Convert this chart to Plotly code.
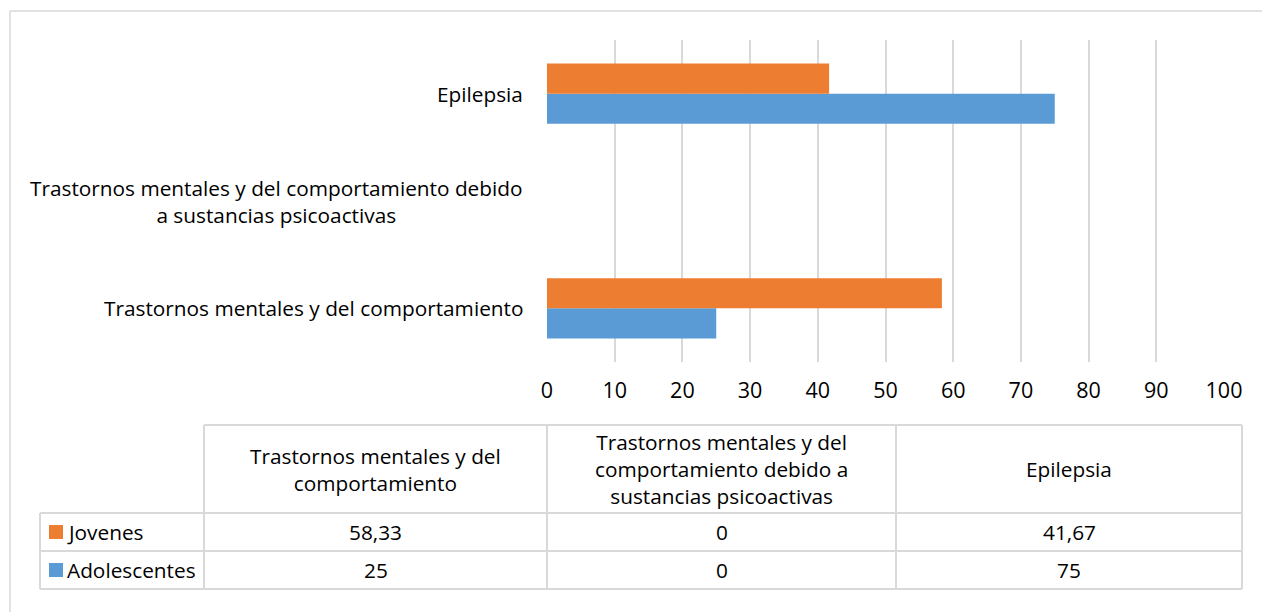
import plotly.graph_objects as go

# Categories (bottom to top on the chart)
categorias = [
    "Trastornos mentales y del comportamiento",
    "Trastornos mentales y del comportamiento debido a sustancias psicoactivas",
    "Epilepsia",
]
# Wrapped versions for the axis labels and for the table header
etiquetas_eje = [
    "Trastornos mentales y del comportamiento",
    "Trastornos mentales y del comportamiento debido<br>a sustancias psicoactivas",
    "Epilepsia",
]
etiquetas_tabla = [
    "Trastornos mentales y del<br>comportamiento",
    "Trastornos mentales y del<br>comportamiento debido a<br>sustancias psicoactivas",
    "Epilepsia",
]
series = ["Jovenes", "Adolescentes"]
jovenes = [58.33, 0, 41.67]
adolescentes = [25, 0, 75]
ticks_x = [0, 10, 20, 30, 40, 50, 60, 70, 80, 90, 100]

NARANJA = "#ED7D31"
AZUL = "#5B9BD5"
GRIS = "#D9D9D9"
FUENTE = "Open Sans"
TAM = 20.8

W, H = 1262, 612
# plot area in pixels
PL, PR, PT, PB = 547, 1224, 40, 362


def px(x):
    return (x - PL) / (PR - PL)


def py(y):
    return (PB - y) / (PB - PT)


fig = go.Figure()
fig.add_trace(go.Bar(y=categorias, x=adolescentes, orientation="h", name="Adolescentes",
                     marker=dict(color=AZUL, line=dict(width=0))))
fig.add_trace(go.Bar(y=categorias, x=jovenes, orientation="h", name="Jovenes",
                     marker=dict(color=NARANJA, line=dict(width=0))))

fig.update_layout(
    width=W, height=H,
    margin=dict(l=PL, r=W - PR, t=PT, b=H - PB),
    paper_bgcolor="white", plot_bgcolor="white",
    barmode="group", bargap=0.44, bargroupgap=0,
    showlegend=False,
    font=dict(family=FUENTE, color="#000000", size=TAM),
)
fig.update_xaxes(range=[0, 100], tickvals=ticks_x, showgrid=True, gridcolor=GRIS, gridwidth=2,
                 zeroline=False, showline=False, ticks="", ticklabelstandoff=13,
                 tickfont=dict(size=21.5, family=FUENTE, color="#000000"))
fig.update_yaxes(categoryorder="array", categoryarray=categorias, showticklabels=False,
                 showgrid=False, zeroline=False, showline=False)

shapes = []
anns = []

# outer frame (top and left edges)
shapes.append(dict(type="line", xref="paper", yref="paper", x0=px(10), x1=px(W + 5),
                   y0=py(11), y1=py(11), line=dict(color=GRIS, width=1.5)))
shapes.append(dict(type="line", xref="paper", yref="paper", x0=px(10), x1=px(10),
                   y0=py(11), y1=py(H + 5), line=dict(color=GRIS, width=1.5)))

# category labels next to the bars
for cat, lab in zip(categorias, etiquetas_eje):
    anns.append(dict(xref="paper", yref="y", x=px(525), y=cat, text=lab, showarrow=False,
                     xanchor="right", yanchor="middle", align="center",
                     font=dict(size=TAM, family=FUENTE, color="#000000")))

# data table below the chart
cols = [40, 204, 547, 896, 1242]
rows = [425, 513, 551, 589]
linea = dict(color=GRIS, width=2)
# horizontal lines
shapes.append(dict(type="line", xref="paper", yref="paper", x0=px(cols[1]), x1=px(cols[-1]),
                   y0=py(rows[0]), y1=py(rows[0]), line=linea))
for r in rows[1:]:
    shapes.append(dict(type="line", xref="paper", yref="paper", x0=px(cols[0]), x1=px(cols[-1]),
                       y0=py(r), y1=py(r), line=linea))
# vertical lines
shapes.append(dict(type="line", xref="paper", yref="paper", x0=px(cols[0]), x1=px(cols[0]),
                   y0=py(rows[1]), y1=py(rows[-1]), line=linea))
for c in cols[1:]:
    shapes.append(dict(type="line", xref="paper", yref="paper", x0=px(c), x1=px(c),
                       y0=py(rows[0]), y1=py(rows[-1]), line=linea))

tfont = dict(size=TAM, family=FUENTE, color="#000000")
for i, lab in enumerate(etiquetas_tabla):
    cx = (cols[i + 1] + cols[i + 2]) / 2
    anns.append(dict(xref="paper", yref="paper", x=px(cx), y=py((rows[0] + rows[1]) / 2),
                     text=lab, showarrow=False, xanchor="center", yanchor="middle",
                     align="center", font=tfont))


def fmt(v):
    return f"{v:g}".replace(".", ",")


for j, (nombre, vals, color) in enumerate([(series[0], jovenes, NARANJA),
                                           (series[1], adolescentes, AZUL)]):
    cy = (rows[j + 1] + rows[j + 2]) / 2
    shapes.append(dict(type="rect", xref="paper", yref="paper", x0=px(49), x1=px(63),
                       y0=py(cy - 7), y1=py(cy + 7), fillcolor=color, line=dict(width=0)))
    anns.append(dict(xref="paper", yref="paper", x=px(65), y=py(cy), text=nombre,
                     showarrow=False, xanchor="left", yanchor="middle", font=tfont))
    for i, v in enumerate(vals):
        cx = (cols[i + 1] + cols[i + 2]) / 2
        anns.append(dict(xref="paper", yref="paper", x=px(cx), y=py(cy), text=fmt(v),
                         showarrow=False, xanchor="center", yanchor="middle", font=tfont))

fig.update_layout(shapes=shapes, annotations=anns)
fig.write_html("out.html")
